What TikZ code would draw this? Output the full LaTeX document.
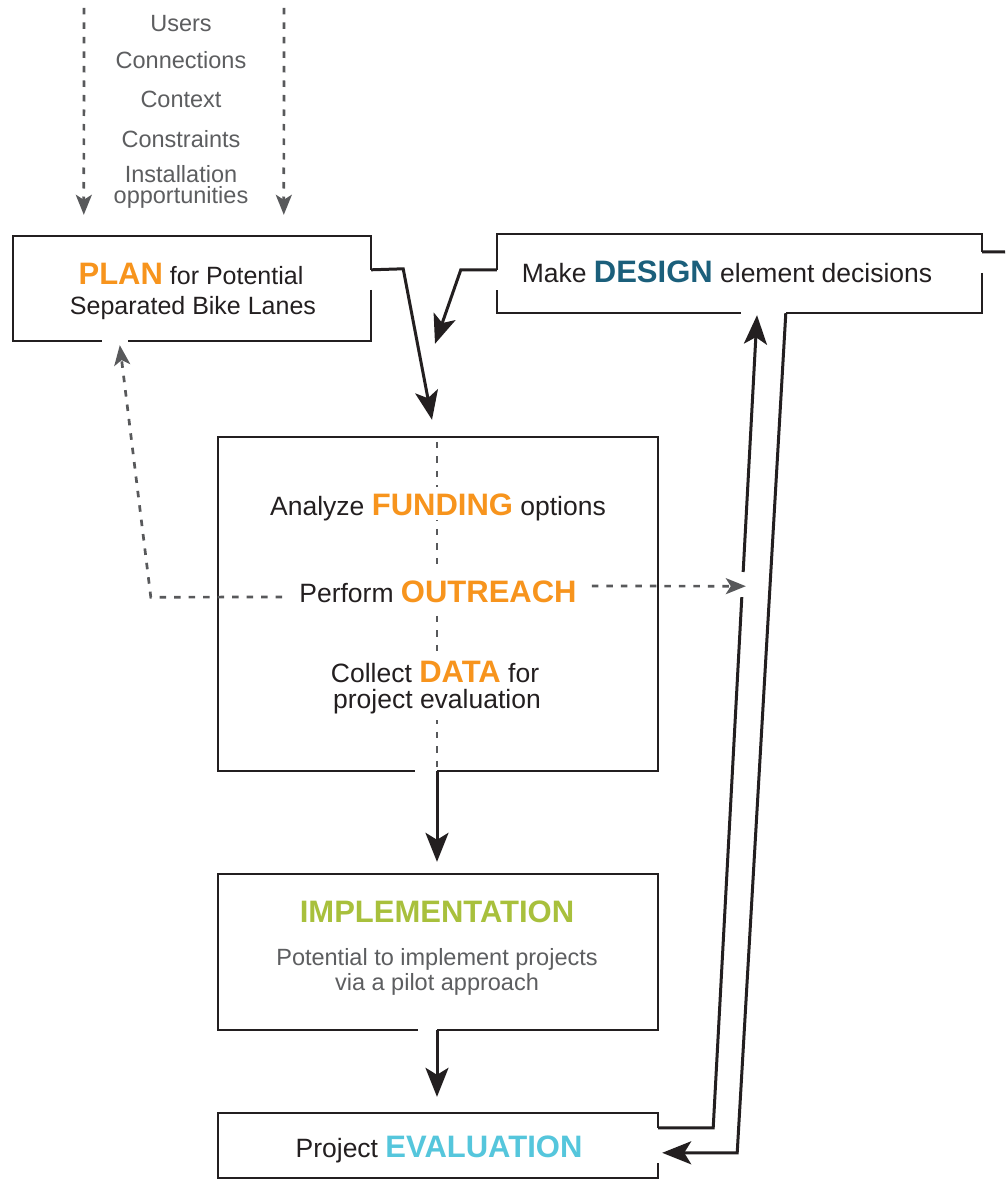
\documentclass[tikz,border=0pt]{standalone}
\usepackage{fontspec}
\setmainfont{Liberation Sans}
\usetikzlibrary{arrows.meta,calc}
\definecolor{ink}{HTML}{231F20}
\definecolor{grayt}{HTML}{5D5E60}
\definecolor{dashc}{HTML}{58595B}
\definecolor{orng}{HTML}{F7941D}
\definecolor{dsgn}{HTML}{1B5F7B}
\definecolor{grn}{HTML}{A8C03C}
\definecolor{cyn}{HTML}{55C6DC}
\newcommand\kwd[2]{{\color{#1}\bfseries\fontsize{31}{34}\selectfont #2}}
\tikzset{
  boxshape/.style={draw=none, inner sep=0pt, rectangle},
  border/.style={draw=ink, line width=2pt},
  plainconn/.style={draw=ink, line width=3pt},
  conn/.style={draw=ink, line width=3pt, -{Stealth[length=29pt,width=23pt,inset=7pt]}},
  dashg/.style={draw=dashc, line width=2.7pt, dash pattern=on 6.5pt off 8pt, -{Stealth[length=20pt,width=16pt,inset=5pt]}},
  dotv/.style={draw=dashc, line width=2.7pt, dash pattern=on 6.5pt off 8pt},
  txt/.style={text=ink, inner sep=0pt, anchor=base, font=\fontsize{26.5}{30}\selectfont},
  plantxt/.style={text=ink, inner sep=0pt, anchor=base, font=\fontsize{25}{29}\selectfont},
  gtxt/.style={text=grayt, inner sep=0pt, anchor=base, font=\fontsize{23.5}{21}\selectfont},
  wtxt/.style={txt, fill=white, inner xsep=2pt, inner ysep=0pt},
}
\begin{document}
\begin{tikzpicture}[x=1pt,y=-1pt]
\fill[white] (0,0) rectangle (1005,1180);
\useasboundingbox (0,0) rectangle (1005,1180);

% box frames (invisible nodes)
\node[boxshape, minimum width=358pt, minimum height=105pt] (planbox) at (192,288.5) {};
\node[boxshape, minimum width=485pt, minimum height=79pt] (designbox) at (739.5,273.5) {};
\node[boxshape, minimum width=440pt, minimum height=334pt] (fundbox) at (438,604) {};
\node[boxshape, minimum width=440pt, minimum height=156pt] (implbox) at (438,952) {};
\node[boxshape, minimum width=440pt, minimum height=65pt] (evalbox) at (438,1145.5) {};

% outlines with gaps
\draw[border] ($(planbox.south west)+(89,0)$) -| (planbox.north west) -| ($(planbox.north east)+(0,34)$);
\draw[border] ($(planbox.north east)+(0,54)$) |- ($(planbox.south west)+(115,0)$);
\draw[border] ($(designbox.north west)+(0,36)$) |- (designbox.north east) -- ($(designbox.north east)+(0,18)$);
\draw[border] ($(designbox.north east)+(0,39)$) |- ($(designbox.south west)+(289,0)$);
\draw[border] ($(designbox.south west)+(244,0)$) -| ($(designbox.north west)+(0,56)$);
\draw[border] ($(fundbox.south west)+(197,0)$) -| (fundbox.north west) -| (fundbox.south east) -- ($(fundbox.south west)+(219,0)$);
\draw[border] ($(implbox.south west)+(200,0)$) -| (implbox.north west) -| (implbox.south east) -- ($(implbox.south west)+(219,0)$);
\draw[border] ($(evalbox.north east)+(0,15)$) -- (evalbox.north east) -| (evalbox.south west) -| ($(evalbox.north east)+(0,50)$);

% dotted line through the middle box
\draw[dotv] ($(fundbox.north)+(-1,5)$) -- ($(fundbox.south)+(-1,-1)$);

% texts
\node[gtxt] (users) at (181,32) {Users};
\node[gtxt] (connections) at (181,69) {Connections};
\node[gtxt] (context) at (181,108) {Context};
\node[gtxt] (constraints) at (181,147) {Constraints};
\node[gtxt, align=center, anchor=north] (install) at (181,165.2) {Installation\\opportunities};

\node[plantxt] (plan1) at (191,284) {\kwd{orng}{PLAN} for Potential};
\node[plantxt] (plan2) at (193,314) {Separated Bike Lanes};

\node[txt] (design) at (727,282) {Make \kwd{dsgn}{DESIGN} element decisions};

\node[wtxt, text height=28pt, text depth=5pt] (funding) at (438,515) {Analyze \kwd{orng}{FUNDING} options};
\node[wtxt, text height=35pt, text depth=6pt] (outreach) at (438,602) {Perform \kwd{orng}{OUTREACH}};
\node[wtxt, text height=29pt, text depth=6pt] (data1) at (435,682) {Collect \kwd{orng}{DATA} for};
\node[wtxt, text height=20pt, text depth=12pt] (data2) at (437,708) {project evaluation};

\node[txt] (impl) at (437,922) {\kwd{grn}{IMPLEMENTATION}};
\node[gtxt] (pot1) at (437,965) {Potential to implement projects};
\node[gtxt] (pot2) at (437,990) {via a pilot approach};

\node[txt] (eval) at (439,1157) {Project \kwd{cyn}{EVALUATION}};

% grey dashed connectors
\coordinate (topL) at (84,8);
\coordinate (topR) at (284,8);
\draw[dashg] (topL) -- ($(planbox.north west)+(71,-21)$);
\draw[dashg] (topR) -- ($(planbox.north west)+(271,-21)$);
\draw[dashg] ($(outreach.base west)+(-15,-5)$) -- ($(planbox.south west)+(138,256)$) -- ($(planbox.south west)+(107,4)$);
\draw[dashg] ($(outreach.base east)+(13,-16)$) -- ($(designbox.south west)+(249,273)$);

% black connectors
\draw[conn] ($(planbox.north east)+(0,34)$) -- ($(planbox.north east)+(32,33)$) -- ($(fundbox.north)+(-6,-17)$);
\draw[conn] ($(designbox.north west)+(0,36)$) -- ($(designbox.north west)+(-36,36)$) -- ($(fundbox.north)+(-3,-93)$);
\coordinate (offR) at (1005,252);
\draw[plainconn] ($(designbox.north east)+(0,18)$) -- (offR);
\draw[conn] ($(fundbox.south)+(-1,0)$) -- ($(implbox.north)+(-1,-12)$);
\draw[conn] ($(implbox.south)+(-1,0)$) -- ($(evalbox.north)+(-1,-16)$);

\coordinate (a0) at ($(evalbox.north east)+(55,15)$);
\coordinate (a1) at ($(designbox.south)+(17.5,2)$);
\draw[plainconn] ($(evalbox.north east)+(0,15)$) -- (a0) -- ($(a0)!0.653!(a1)$);
\draw[conn] ($(a0)!0.684!(a1)$) -- (a1);

\coordinate (b0) at ($(designbox.south west)+(289,0)$);
\coordinate (b1) at ($(evalbox.north east)+(79,40)$);
\draw[conn] (b0) -- (b1) -- ($(evalbox.north east)+(4,40)$);
\end{tikzpicture}
\end{document}
